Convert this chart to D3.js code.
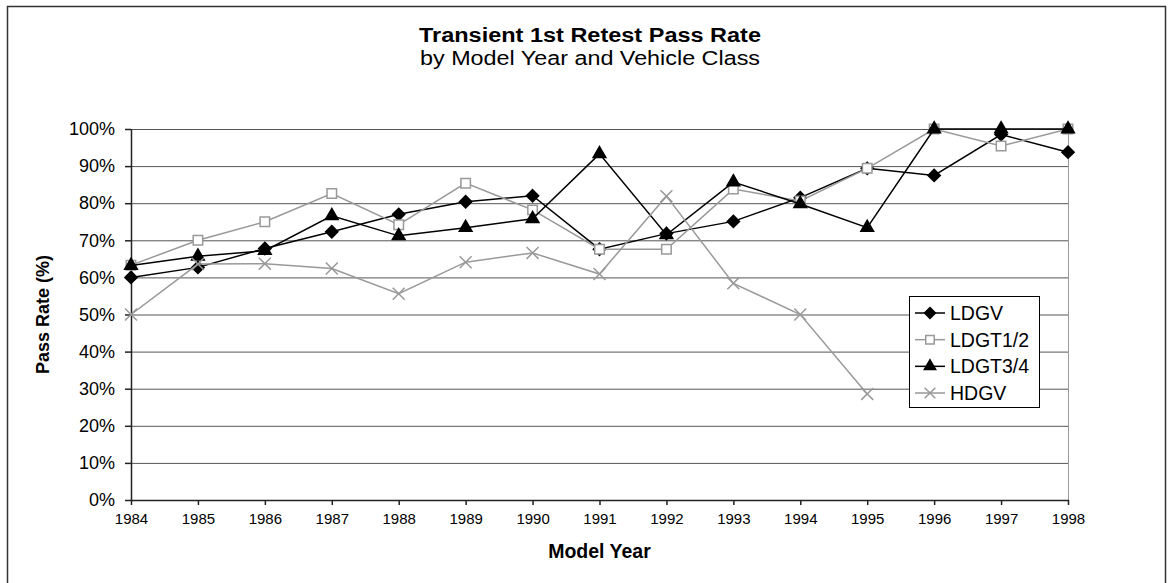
<!DOCTYPE html>
<html>
<head>
<meta charset="utf-8">
<script src="https://cdn.jsdelivr.net/npm/d3@7"></script>
<style>
  body { margin: 0; background: #fff; }
  text { font-family: "Liberation Sans", Arial, sans-serif; }
</style>
</head>
<body>
<script>
const years = [1984, 1985, 1986, 1987, 1988, 1989, 1990, 1991, 1992, 1993, 1994, 1995, 1996, 1997, 1998];
const ldgv = [60, 62.7, 67.8, 72.3, 77, 80.4, 82, 67.6, 71.8, 75.1, 81.5, 89.4, 87.5, 98.5, 93.75];
const ldgt12 = [63.3, 70, 75, 82.6, 74.2, 85.4, 78.2, 67.6, 67.6, 83.8, 80.6, 89.4, 100, 95.4, 100];
const ldgt34 = [63.2, 65.7, 67.2, 76.6, 71.2, 73.4, 75.8, 93.3, 71.5, 85.7, 79.8, 73.4, 100, 100, 100];
const hdgv = [50, 63.6, 63.7, 62.4, 55.6, 64.1, 66.6, 60.9, 81.9, 58.4, 50, 28.6, null, null, null];
const yTicks = [0, 10, 20, 30, 40, 50, 60, 70, 80, 90, 100];
const seriesNames = ["LDGV", "LDGT1/2", "LDGT3/4", "HDGV"];

const width = 1172, height = 583;
const plotLeft = 131, plotRight = 1068, plotTop = 129, plotBottom = 500;

const x = d3.scaleLinear().domain([1984, 1998]).range([plotLeft, plotRight]);
const y = d3.scaleLinear().domain([0, 100]).range([plotBottom, plotTop]);

const diamond = {
  draw(ctx, size) {
    const r = Math.sqrt(size) / 2;
    ctx.moveTo(0, -r); ctx.lineTo(r, 0); ctx.lineTo(0, r); ctx.lineTo(-r, 0); ctx.closePath();
  }
};

const series = [
  { name: seriesNames[0], values: ldgv, color: "#000", symbol: diamond, size: 150, fill: "#000" },
  { name: seriesNames[1], values: ldgt12, color: "#999", symbol: d3.symbolSquare, size: 90, fill: "#fff" },
  { name: seriesNames[2], values: ldgt34, color: "#000", symbol: d3.symbolTriangle, size: 70, fill: "#000" },
  { name: seriesNames[3], values: hdgv, color: "#999", symbol: d3.symbolX, size: 95, fill: "none" }
];

const svg = d3.select("body").append("svg")
  .attr("width", width).attr("height", height);

// chart frame
svg.append("rect")
  .attr("x", 7.5).attr("y", 6.5).attr("width", 1158).attr("height", 590)
  .attr("fill", "none").attr("stroke", "#333").attr("stroke-width", 1.5);

// title (glyphs are a bit wide in the original, so stretch to its width)
svg.append("text")
  .attr("x", 590).attr("y", 42).attr("text-anchor", "middle")
  .attr("font-size", 20).attr("font-weight", "bold")
  .attr("textLength", 342).attr("lengthAdjust", "spacingAndGlyphs")
  .text("Transient 1st Retest Pass Rate");
svg.append("text")
  .attr("x", 590).attr("y", 65).attr("text-anchor", "middle")
  .attr("font-size", 20)
  .attr("textLength", 340).attr("lengthAdjust", "spacingAndGlyphs")
  .text("by Model Year and Vehicle Class");

// gridlines
svg.append("g")
  .selectAll("line")
  .data(yTicks.filter((d) => d > 0))
  .join("line")
  .attr("x1", plotLeft).attr("x2", plotRight)
  .attr("y1", (d) => y(d) + 0.5).attr("y2", (d) => y(d) + 0.5)
  .attr("stroke", "#555").attr("stroke-width", 1);

// right border of plot
svg.append("line")
  .attr("x1", plotRight + 0.5).attr("x2", plotRight + 0.5)
  .attr("y1", plotTop).attr("y2", plotBottom)
  .attr("stroke", "#999");

// axes
const yAxis = svg.append("g")
  .attr("transform", `translate(${plotLeft},0)`)
  .call(d3.axisLeft(y).tickValues(yTicks).tickFormat((d) => d + "%").tickSize(6).tickSizeOuter(0));
yAxis.selectAll("text").attr("font-size", 18).attr("font-family", "Liberation Sans, Arial, sans-serif").attr("x", -16);

const xAxis = svg.append("g")
  .attr("transform", `translate(0,${plotBottom})`)
  .call(d3.axisBottom(x).tickValues(years).tickFormat((d) => d).tickSize(5).tickSizeOuter(0));
xAxis.selectAll("text").attr("font-size", 15).attr("font-family", "Liberation Sans, Arial, sans-serif").attr("y", 13);

svg.selectAll(".domain, .tick line").attr("stroke", "#222").attr("stroke-width", 1.5);

// axis titles
svg.append("text")
  .attr("x", (plotLeft + plotRight) / 2).attr("y", 558).attr("text-anchor", "middle")
  .attr("font-size", 19.5).attr("font-weight", "bold")
  .text("Model Year");
svg.append("text")
  .attr("transform", `translate(49,${(plotTop + plotBottom) / 2}) rotate(-90)`)
  .attr("text-anchor", "middle")
  .attr("font-size", 18).attr("font-weight", "bold")
  .text("Pass Rate (%)");

// lines and markers
const line = d3.line()
  .defined((d) => d.v != null)
  .x((d) => x(d.year))
  .y((d) => y(d.v));

for (const s of series) {
  const pts = years.map((yr, i) => ({ year: yr, v: s.values[i] }));
  svg.append("path")
    .datum(pts)
    .attr("fill", "none")
    .attr("stroke", s.color)
    .attr("stroke-width", 1.5)
    .attr("d", line);
  svg.append("g")
    .selectAll("path")
    .data(pts.filter((d) => d.v != null))
    .join("path")
    .attr("transform", (d) => `translate(${x(d.year)},${y(d.v)})`)
    .attr("d", d3.symbol(s.symbol, s.size))
    .attr("fill", s.fill)
    .attr("stroke", s.color)
    .attr("stroke-width", 1.5);
}

// legend
const legend = svg.append("g");
legend.append("rect")
  .attr("x", 909.5).attr("y", 296.5).attr("width", 130).attr("height", 111)
  .attr("fill", "#fff").attr("stroke", "#000").attr("stroke-width", 1);

const rowY = d3.scalePoint().domain(seriesNames).range([313, 393]);
const item = legend.selectAll("g.item")
  .data(series)
  .join("g")
  .attr("class", "item")
  .attr("transform", (d) => `translate(0,${rowY(d.name)})`);
item.append("line")
  .attr("x1", 915).attr("x2", 945)
  .attr("stroke", (d) => d.color).attr("stroke-width", 1.5);
item.append("path")
  .attr("transform", "translate(930,0)")
  .attr("d", (d) => d3.symbol(d.symbol, d.size * 0.8)())
  .attr("fill", (d) => d.fill)
  .attr("stroke", (d) => d.color)
  .attr("stroke-width", 1.5);
item.append("text")
  .attr("x", 950).attr("dy", "0.36em")
  .attr("font-size", 19.5)
  .text((d) => d.name);
</script>
</body>
</html>
